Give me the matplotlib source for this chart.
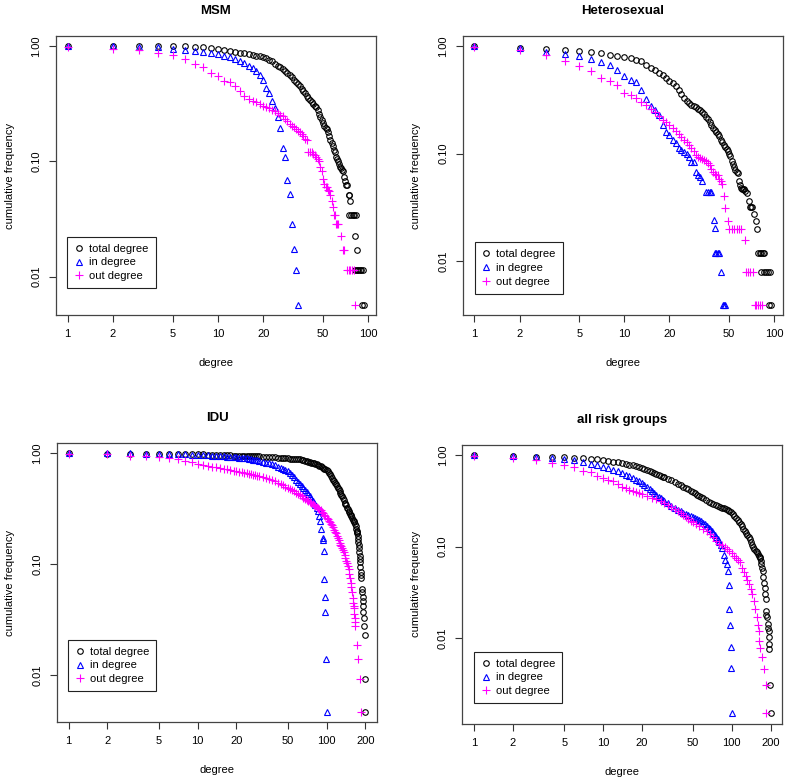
import numpy as np
import matplotlib
matplotlib.use('Agg')
import matplotlib.pyplot as plt
from matplotlib.ticker import FixedLocator, NullLocator, FixedFormatter

plt.rcParams['font.family'] = ['Liberation Sans', 'DejaVu Sans']

# ---- MSM ----
msm_total_deg = [1, 2, 3, 4, 5, 6, 7, 8, 9, 10, 11, 12, 13, 14, 15, 16, 17, 18, 19, 20,
                 21, 22, 23, 24, 25, 26, 27, 28, 29, 30, 31, 32, 33, 34, 35, 36, 37, 38, 39, 40,
                 41, 42, 43, 44, 45, 46, 47, 48, 49, 50, 51, 52, 53, 54, 55, 56, 57, 58, 59, 60,
                 61, 62, 63, 64, 65, 66, 67, 68, 69, 70, 71, 72, 74, 75, 76, 75, 77, 79, 81, 83,
                 82, 84, 82, 84, 86, 88, 90, 92, 91, 94]
msm_total_freq = [1.0, 1.0, 1.0, 1.0, 1.0, 1.0, 0.994, 0.98, 0.96, 0.948, 0.929, 0.911, 0.895, 0.882, 0.87,
                  0.858, 0.846, 0.83, 0.82, 0.805, 0.79, 0.766, 0.74, 0.70, 0.68, 0.66, 0.64, 0.61, 0.585,
                  0.56, 0.54, 0.51, 0.49, 0.47, 0.45, 0.43, 0.41, 0.39, 0.37, 0.355, 0.34, 0.33, 0.315,
                  0.305, 0.295, 0.28, 0.26, 0.245, 0.23, 0.215, 0.205, 0.195, 0.19, 0.18, 0.165, 0.155,
                  0.145, 0.137, 0.125, 0.12, 0.11, 0.105, 0.1, 0.095, 0.09, 0.087, 0.085, 0.082, 0.074,
                  0.068, 0.0625, 0.0625, 0.0511, 0.0511, 0.0455, 0.034, 0.034, 0.034, 0.034, 0.034,
                  0.0227, 0.017, 0.0114, 0.0114, 0.0114, 0.0114, 0.0114, 0.0114, 0.0057, 0.0057]
msm_in_deg = [1, 2, 3, 4, 5, 6, 7, 8, 9, 10, 11, 12, 13, 14, 15, 16, 17, 18, 19, 20,
              21, 22, 23, 24, 25, 26, 27, 28, 29, 30, 31, 32, 33, 34]
msm_in_freq = [1.0, 1.0, 0.995, 0.99, 0.955, 0.935, 0.905, 0.887, 0.872, 0.855, 0.83, 0.80, 0.775,
               0.745, 0.71, 0.68, 0.65, 0.605, 0.56, 0.505, 0.435, 0.39, 0.337, 0.29, 0.241, 0.195,
               0.132, 0.109, 0.069, 0.052, 0.0285, 0.0173, 0.0114, 0.0057]
msm_out_deg = [1, 2, 3, 4, 5, 6, 7, 8, 9, 10, 11, 12, 13, 14, 15, 16, 17, 18, 19, 20,
               21, 22, 23, 24, 25, 26, 27, 28, 29, 30, 31, 32, 33, 34, 35, 36, 37, 38, 39, 40,
               41, 42, 43, 44, 45, 46, 47, 48, 49, 50, 51, 52, 53, 54, 55, 56, 57, 58, 59, 60,
               61, 62, 63, 66, 68, 69, 72, 74, 76, 78, 80, 82]
msm_out_freq = [0.99, 0.948, 0.923, 0.875, 0.835, 0.776, 0.702, 0.657, 0.586, 0.55, 0.503, 0.486,
                0.455, 0.41, 0.372, 0.35, 0.335, 0.326, 0.315, 0.305, 0.3, 0.29, 0.28, 0.276, 0.265,
                0.255, 0.246, 0.234, 0.225, 0.213, 0.205, 0.198, 0.191, 0.185, 0.18, 0.172, 0.165,
                0.158, 0.154, 0.12, 0.12, 0.12, 0.117, 0.114, 0.109, 0.105, 0.1, 0.09, 0.083, 0.07,
                0.064, 0.06, 0.06, 0.057, 0.0556, 0.051, 0.045, 0.0399, 0.034, 0.034, 0.0284, 0.0284,
                0.0284, 0.0227, 0.017, 0.017, 0.0114, 0.0114, 0.0114, 0.0114, 0.0114, 0.0057]

# ---- Heterosexual ----
het_total_deg = [1, 2, 3, 4, 5, 6, 7, 8, 9, 10, 11, 12, 13, 14, 15, 16, 17, 18, 19, 20,
                 21, 22, 23, 24, 25, 26, 27, 28, 29, 30, 31, 32, 33, 34, 35, 36, 37, 38, 39, 40,
                 41, 42, 43, 44, 45, 46, 47, 48, 49, 50, 51, 52, 53, 54, 55, 56, 57, 58, 59, 60,
                 61, 62, 63, 64, 66, 68, 69, 70, 71, 73, 75, 77, 78, 80, 82, 84, 86, 82, 85, 88,
                 91, 94, 92, 95]
het_total_freq = [1.0, 0.972, 0.944, 0.924, 0.899, 0.88, 0.861, 0.831, 0.82, 0.80, 0.773, 0.746,
                  0.722, 0.675, 0.629, 0.60, 0.565, 0.54, 0.51, 0.48, 0.455, 0.425, 0.395, 0.36,
                  0.333, 0.312, 0.297, 0.285, 0.278, 0.27, 0.262, 0.255, 0.245, 0.232, 0.22, 0.208,
                  0.195, 0.185, 0.175, 0.167, 0.16, 0.152, 0.145, 0.135, 0.127, 0.12, 0.115, 0.11,
                  0.106, 0.1, 0.095, 0.085, 0.08, 0.075, 0.07, 0.068, 0.066, 0.055, 0.051, 0.048,
                  0.047, 0.047, 0.047, 0.045, 0.043, 0.036, 0.0315, 0.0315, 0.0315, 0.0276, 0.0236,
                  0.0197, 0.0118, 0.0118, 0.0118, 0.0118, 0.0118, 0.0079, 0.0079, 0.0079, 0.0079,
                  0.0079, 0.0039, 0.0039]
het_in_deg = [1, 2, 3, 4, 5, 6, 7, 8, 9, 10, 11, 12, 13, 14, 15, 16, 17, 18, 19, 20,
              21, 22, 23, 24, 25, 26, 27, 28, 29, 30, 31, 32, 33, 35, 36, 37, 38, 39.5, 40,
              40, 41, 42, 43, 44.4, 45.5, 46.5, 47]
het_in_freq = [1.0, 0.958, 0.88, 0.85, 0.807, 0.763, 0.72, 0.675, 0.607, 0.533, 0.49, 0.469, 0.395,
               0.32, 0.275, 0.255, 0.23, 0.185, 0.16, 0.148, 0.135, 0.125, 0.112, 0.107, 0.103, 0.1,
               0.094, 0.084, 0.083, 0.068, 0.0635, 0.06, 0.055, 0.0438, 0.0438, 0.0438, 0.0438,
               0.0242, 0.0203, 0.0118, 0.0118, 0.0118, 0.0118, 0.0079, 0.0039, 0.0039, 0.0039]
het_out_deg = [1, 2, 3, 4, 5, 6, 7, 8, 9, 10, 11, 12, 13, 14, 15, 16, 17, 18, 19, 20,
               21, 22, 23, 24, 25, 26, 27, 28, 29, 30, 31, 32, 33, 34, 35, 36, 37, 38, 39, 40,
               41, 42, 43, 44, 45, 46, 47, 49, 50, 52, 54, 56, 58, 60, 64, 65, 67, 69, 72, 74,
               76, 78, 80, 83]
het_out_freq = [0.986, 0.931, 0.83, 0.735, 0.65, 0.594, 0.507, 0.48, 0.437, 0.37, 0.352, 0.328,
                0.305, 0.285, 0.26, 0.243, 0.225, 0.206, 0.195, 0.185, 0.173, 0.162, 0.153, 0.142,
                0.135, 0.128, 0.12, 0.112, 0.105, 0.097, 0.093, 0.091, 0.09, 0.088, 0.085, 0.082,
                0.078, 0.072, 0.068, 0.065, 0.0635, 0.063, 0.058, 0.055, 0.052, 0.04, 0.031, 0.0236,
                0.0197, 0.0197, 0.0197, 0.0197, 0.0197, 0.0197, 0.0158, 0.0079, 0.0079, 0.0079,
                0.0079, 0.0039, 0.0039, 0.0039, 0.0039, 0.0039]

# ---- IDU ----
idu_total_deg = [1, 2, 3, 4, 5, 6, 7, 8, 9, 10, 11, 12, 13, 14, 15, 16, 17, 18, 19, 20,
                 21, 22, 23, 24, 25, 26, 27, 28, 29, 30, 32, 34, 36, 38, 40, 42, 44, 46, 48, 50,
                 52, 54, 56, 58, 60, 62, 64, 66, 68, 70, 72, 74, 76, 78, 80, 82, 84, 86, 88, 90,
                 92, 94, 96, 98, 100, 102, 104, 106, 108, 110, 112, 114, 116, 118, 120, 122, 124,
                 126, 128, 130, 132, 134, 136, 138, 140, 142, 144, 146, 148, 150, 152, 154, 156,
                 158, 160, 162, 164, 166, 168, 170, 171, 172, 173, 174, 175, 176, 177, 178, 179,
                 180, 181, 182, 183, 184, 185, 186, 188, 189, 190, 191, 192, 193, 194, 195, 197,
                 198, 200]
idu_total_freq = [1.0, 0.995, 0.995, 0.99, 0.99, 0.99, 0.985, 0.985, 0.98, 0.98, 0.98, 0.975, 0.97,
                  0.966, 0.965, 0.962, 0.96, 0.958, 0.955, 0.953, 0.952, 0.95, 0.949, 0.947, 0.945,
                  0.943, 0.942, 0.94, 0.938, 0.937, 0.934, 0.93, 0.927, 0.923, 0.92, 0.916, 0.912,
                  0.908, 0.905, 0.9, 0.898, 0.895, 0.892, 0.889, 0.885, 0.88, 0.873, 0.865, 0.857,
                  0.85, 0.84, 0.832, 0.825, 0.817, 0.81, 0.80, 0.795, 0.785, 0.775, 0.765, 0.755,
                  0.745, 0.73, 0.72, 0.71, 0.69, 0.67, 0.65, 0.625, 0.60, 0.58, 0.56, 0.545, 0.525,
                  0.51, 0.49, 0.475, 0.455, 0.44, 0.425, 0.41, 0.395, 0.38, 0.36, 0.35, 0.34, 0.325,
                  0.315, 0.305, 0.295, 0.285, 0.278, 0.27, 0.26, 0.25, 0.245, 0.24, 0.232, 0.22,
                  0.21, 0.2, 0.195, 0.19, 0.18, 0.17, 0.16, 0.15, 0.14, 0.13, 0.12, 0.112, 0.105,
                  0.095, 0.085, 0.08, 0.075, 0.06, 0.0558, 0.0512, 0.0465, 0.0419, 0.0372, 0.0326,
                  0.0279, 0.0233, 0.0093, 0.0047]
idu_in_deg = [1, 2, 3, 4, 5, 6, 7, 8, 9, 10, 11, 12, 13, 14, 15, 16, 17, 18, 19, 20,
              21, 22, 23, 24, 25, 26, 27, 28, 29, 30, 32, 34, 36, 38, 40, 42, 44, 46, 48, 50,
              52, 54, 56, 58, 60, 62, 64, 66, 68, 70, 72, 74, 76, 78, 80, 82, 84, 86, 88, 89,
              91, 93, 94, 95, 96, 97, 98, 99, 100]
idu_in_freq = [1.0, 1.0, 1.0, 0.995, 0.995, 0.99, 0.985, 0.98, 0.975, 0.97, 0.965, 0.96, 0.955,
               0.95, 0.945, 0.94, 0.935, 0.93, 0.925, 0.92, 0.915, 0.91, 0.905, 0.9, 0.893, 0.885,
               0.878, 0.87, 0.862, 0.855, 0.84, 0.825, 0.81, 0.795, 0.78, 0.76, 0.745, 0.725, 0.705,
               0.69, 0.665, 0.635, 0.61, 0.58, 0.55, 0.525, 0.505, 0.485, 0.465, 0.45, 0.43, 0.41,
               0.39, 0.375, 0.355, 0.34, 0.32, 0.3, 0.274, 0.246, 0.207, 0.174, 0.166, 0.132,
               0.0743, 0.051, 0.0372, 0.014, 0.0047]
idu_out_deg = [1, 2, 3, 4, 5, 6, 7, 8, 9, 10, 11, 12, 13, 14, 15, 16, 17, 18, 19, 20,
               21, 22, 23, 24, 25, 26, 27, 28, 29, 30, 32, 34, 36, 38, 40, 42, 44, 46, 48, 50,
               52, 54, 56, 58, 60, 62, 64, 66, 68, 70, 72, 74, 76, 78, 80, 82, 84, 86, 88, 90,
               92, 94, 96, 98, 100, 102, 104, 106, 108, 110, 112, 114, 116, 118, 120, 122, 124,
               126, 128, 130, 132, 134, 136, 138, 140, 142, 144, 146, 148, 150, 152, 154, 156,
               158, 160, 161, 162, 163, 164, 165, 166, 167, 171, 176, 181, 185]
idu_out_freq = [0.995, 0.985, 0.945, 0.94, 0.93, 0.91, 0.88, 0.85, 0.83, 0.805, 0.79, 0.775, 0.76,
                0.75, 0.74, 0.73, 0.72, 0.71, 0.7, 0.69, 0.683, 0.676, 0.67, 0.663, 0.656, 0.65,
                0.643, 0.636, 0.628, 0.62, 0.61, 0.6, 0.585, 0.57, 0.56, 0.545, 0.53, 0.515, 0.5,
                0.488, 0.475, 0.465, 0.455, 0.443, 0.43, 0.42, 0.41, 0.4, 0.39, 0.38, 0.372, 0.364,
                0.355, 0.348, 0.34, 0.334, 0.328, 0.322, 0.316, 0.308, 0.298, 0.29, 0.28, 0.27,
                0.262, 0.255, 0.248, 0.24, 0.232, 0.225, 0.215, 0.205, 0.197, 0.19, 0.18, 0.172,
                0.164, 0.157, 0.15, 0.145, 0.139, 0.134, 0.13, 0.122, 0.115, 0.108, 0.103, 0.097,
                0.09, 0.082, 0.075, 0.068, 0.062, 0.056, 0.05, 0.045, 0.042, 0.04, 0.036, 0.033,
                0.03, 0.028, 0.0186, 0.014, 0.0093, 0.0047]

# ---- all risk groups ----
all_total_deg = [1, 2, 3, 4, 5, 6, 7, 8, 9, 10, 11, 12, 13, 14, 15, 16, 17, 18, 19, 20,
                 21, 22, 23, 24, 25, 26, 27, 28, 29, 30, 32, 34, 36, 38, 40, 42, 44, 46, 48, 50,
                 52, 54, 56, 58, 60, 63, 66, 69, 72, 75, 78, 81, 84, 87, 90, 93, 96, 99, 102, 105,
                 108, 111, 114, 117, 120, 123, 126, 129, 132, 135, 138, 141, 144, 147, 150, 153,
                 156, 159, 162, 165, 167, 169, 170, 172, 174, 176, 178, 180, 182, 183, 185, 186,
                 188, 190, 192, 194, 194, 196, 196, 197, 200]
all_total_freq = [1.0, 0.983, 0.967, 0.959, 0.951, 0.943, 0.927, 0.92, 0.905, 0.89, 0.872, 0.853,
                  0.835, 0.82, 0.805, 0.79, 0.775, 0.76, 0.745, 0.73, 0.713, 0.695, 0.678, 0.66,
                  0.643, 0.627, 0.612, 0.598, 0.585, 0.572, 0.55, 0.53, 0.51, 0.49, 0.472, 0.455,
                  0.44, 0.425, 0.41, 0.397, 0.384, 0.372, 0.36, 0.35, 0.34, 0.325, 0.312, 0.3, 0.29,
                  0.283, 0.277, 0.272, 0.267, 0.262, 0.256, 0.25, 0.244, 0.238, 0.225, 0.215, 0.205,
                  0.195, 0.185, 0.175, 0.167, 0.158, 0.15, 0.142, 0.135, 0.127, 0.12, 0.112, 0.105,
                  0.099, 0.095, 0.09, 0.087, 0.084, 0.08, 0.077, 0.0755, 0.07, 0.065, 0.058, 0.054,
                  0.047, 0.0405, 0.035, 0.03, 0.0265, 0.0198, 0.018, 0.0168, 0.0142, 0.013, 0.012,
                  0.0102, 0.0086, 0.0076, 0.0031, 0.0015]
all_in_deg = [1, 2, 3, 4, 5, 6, 7, 8, 9, 10, 11, 12, 13, 14, 15, 16, 17, 18, 19, 20,
              21, 22, 23, 24, 25, 26, 27, 28, 29, 30, 32, 34, 36, 38, 40, 42, 44, 46, 48, 50,
              52, 54, 56, 58, 60, 62, 64, 66, 68, 70, 72, 74, 76, 78, 80, 82, 84, 87, 89, 92,
              94, 95, 96, 97, 98, 99, 101]
all_in_freq = [1.0, 0.983, 0.967, 0.943, 0.905, 0.882, 0.846, 0.81, 0.785, 0.746, 0.722, 0.692,
               0.665, 0.64, 0.615, 0.59, 0.565, 0.54, 0.518, 0.5, 0.478, 0.455, 0.432, 0.41, 0.385,
               0.365, 0.35, 0.337, 0.325, 0.315, 0.298, 0.28, 0.265, 0.252, 0.243, 0.236, 0.229,
               0.222, 0.217, 0.212, 0.207, 0.2, 0.194, 0.189, 0.182, 0.175, 0.168, 0.16, 0.155,
               0.148, 0.14, 0.133, 0.126, 0.12, 0.113, 0.105, 0.097, 0.082, 0.072, 0.064, 0.054,
               0.038, 0.0206, 0.0139, 0.0079, 0.0047, 0.0015]
all_out_deg = [1, 2, 3, 4, 5, 6, 7, 8, 9, 10, 11, 12, 13, 14, 15, 16, 17, 18, 19, 20,
               22, 24, 26, 28, 30, 32, 34, 36, 38, 40, 42, 44, 46, 48, 50, 53, 56, 60, 64, 68,
               72, 76, 80, 84, 88, 92, 96, 100, 104, 108, 112, 116, 120, 124, 128, 132, 136, 140,
               144, 148, 152, 157, 160, 162, 164, 165, 171, 177, 184, 186]
all_out_freq = [0.983, 0.943, 0.882, 0.832, 0.785, 0.746, 0.675, 0.648, 0.596, 0.571, 0.534, 0.517,
                0.483, 0.452, 0.434, 0.42, 0.41, 0.398, 0.385, 0.376, 0.355, 0.342, 0.33, 0.316,
                0.3, 0.288, 0.272, 0.258, 0.245, 0.232, 0.222, 0.212, 0.203, 0.193, 0.185, 0.176,
                0.167, 0.157, 0.147, 0.136, 0.126, 0.116, 0.107, 0.103, 0.098, 0.094, 0.09, 0.085,
                0.08, 0.075, 0.072, 0.068, 0.059, 0.053, 0.048, 0.043, 0.039, 0.034, 0.03, 0.0254,
                0.021, 0.0168, 0.014, 0.012, 0.0093, 0.0077, 0.0062, 0.0046, 0.0031, 0.0015]

legend_labels = ['total degree', 'in degree', 'out degree']
titles = ['MSM', 'Heterosexual', 'IDU', 'all risk groups']
xticks_small = [1, 2, 5, 10, 20, 50, 100]
xticks_large = [1, 2, 5, 10, 20, 50, 100, 200]
yticks = [0.01, 0.1, 1.0]
ytick_labels = ['0.01', '0.10', '1.00']

# marker styles in R style: open circle, open triangle, plus
styles = [
    dict(marker='o', ms=4.0, mec='black'),
    dict(marker='^', ms=5.0, mec='blue'),
    dict(marker='+', ms=5.6, mec='magenta'),
]


def log_limits(values):
    lo, hi = np.log10(min(values)), np.log10(max(values))
    pad = 0.04 * (hi - lo)
    return 10 ** (lo - pad), 10 ** (hi + pad)


def draw_panel(ax, title, series, xticks, legend_anchor):
    handles = []
    for (deg, freq), st, lab in zip(series, styles, legend_labels):
        h, = ax.plot(deg, freq, linestyle='none', mfc='none', mew=0.8, label=lab, **st)
        handles.append(h)
    ax.set_xscale('log')
    ax.set_yscale('log')
    ax.set_xlim(*log_limits([d for s in series for d in s[0]]))
    ax.set_ylim(*log_limits([f for s in series for f in s[1]]))

    ax.xaxis.set_major_locator(FixedLocator(xticks))
    ax.xaxis.set_major_formatter(FixedFormatter([str(t) for t in xticks]))
    ax.xaxis.set_minor_locator(NullLocator())
    ax.yaxis.set_major_locator(FixedLocator(yticks))
    ax.yaxis.set_major_formatter(FixedFormatter(ytick_labels))
    ax.yaxis.set_minor_locator(NullLocator())
    for lbl in ax.get_yticklabels():
        lbl.set_rotation(90)
        lbl.set_va('center')
    ax.tick_params(direction='out', length=4.8, width=0.8, labelsize=8, pad=5.5,
                   color='#333333')
    for sp in ax.spines.values():
        sp.set_color('#444444')
        sp.set_linewidth(0.9)

    ax.set_title(title, fontsize=9.5, fontweight='bold', pad=15.5)
    ax.set_xlabel('degree', fontsize=8, va='center')
    ax.set_ylabel('cumulative frequency', fontsize=8, va='center')
    ax.xaxis.set_label_coords(0.5, -0.172)
    ax.yaxis.set_label_coords(-0.144, 0.5)

    leg = ax.legend(handles=handles, loc='lower left', bbox_to_anchor=legend_anchor,
                    borderaxespad=0, fontsize=8, frameon=True, fancybox=False,
                    framealpha=1, edgecolor='#222222', handlelength=0.8,
                    handletextpad=0.5, labelspacing=0.33, borderpad=0.65)
    leg.get_frame().set_linewidth(0.8)


fig = plt.figure(figsize=(7.87, 7.82), dpi=100)
axes = [
    fig.add_axes([0.0708, 0.597, 0.4070, 0.357]),
    fig.add_axes([0.5877, 0.597, 0.4070, 0.357]),
    fig.add_axes([0.0720, 0.0767, 0.4074, 0.3568]),
    fig.add_axes([0.5875, 0.0746, 0.4066, 0.3564]),
]

panels = [
    [(msm_total_deg, msm_total_freq), (msm_in_deg, msm_in_freq), (msm_out_deg, msm_out_freq)],
    [(het_total_deg, het_total_freq), (het_in_deg, het_in_freq), (het_out_deg, het_out_freq)],
    [(idu_total_deg, idu_total_freq), (idu_in_deg, idu_in_freq), (idu_out_deg, idu_out_freq)],
    [(all_total_deg, all_total_freq), (all_in_deg, all_in_freq), (all_out_deg, all_out_freq)],
]
xtick_sets = [xticks_small, xticks_small, xticks_large, xticks_large]
legend_anchors = [(0.036, 0.096), (0.0375, 0.076), (0.036, 0.11), (0.0365, 0.073)]

for ax, title, series, xt, anc in zip(axes, titles, panels, xtick_sets, legend_anchors):
    draw_panel(ax, title, series, xt, anc)

fig.savefig('out.png', dpi=100)
